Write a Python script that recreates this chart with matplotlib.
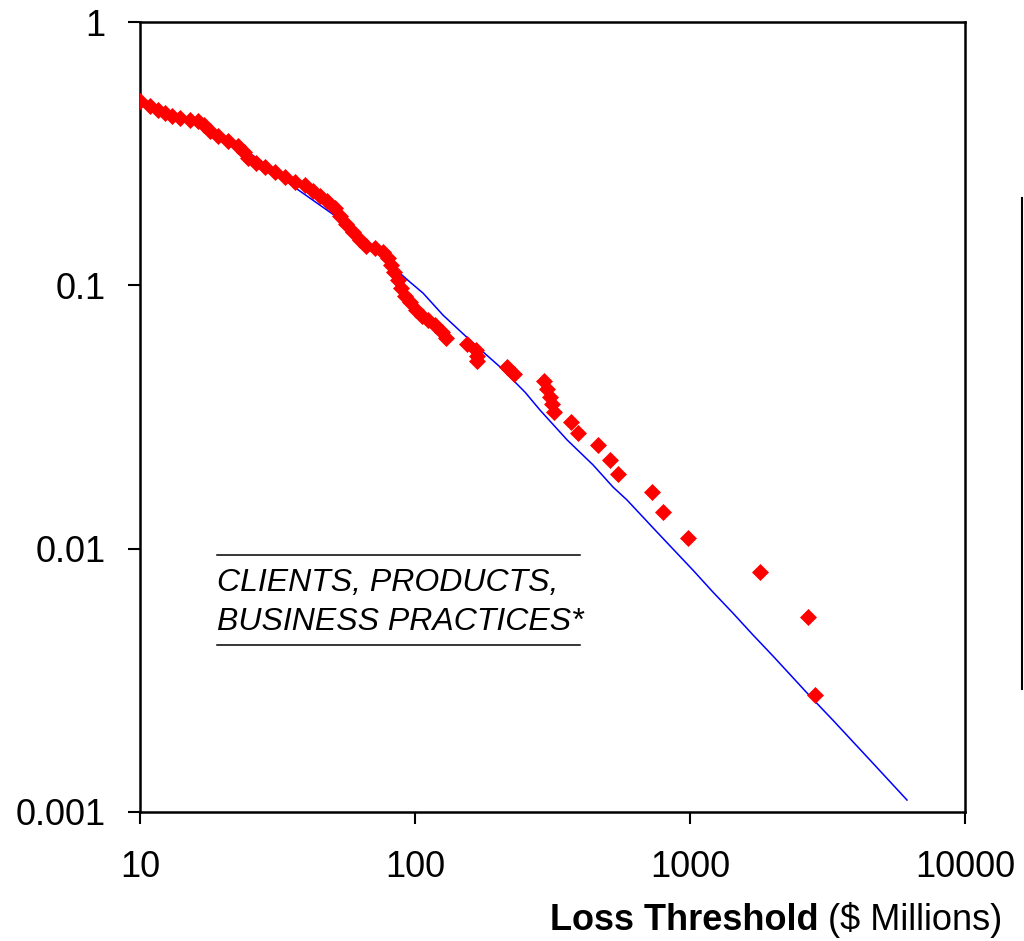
import numpy as np
import matplotlib
matplotlib.use('Agg')
import matplotlib.pyplot as plt
from matplotlib.lines import Line2D
from matplotlib.ticker import NullLocator

plt.rcParams['font.family'] = ['Liberation Sans', 'DejaVu Sans']

# observed exceedance probabilities (red diamonds), loss in $ millions
loss_obs = [10.0, 10.9, 11.6, 12.3, 13.1, 14.0, 15.2, 16.3, 17.1, 18.0,
            19.2, 20.9, 22.7, 23.9, 24.7, 26.4, 28.5, 31.0, 33.7, 36.6,
            39.8, 42.6, 45.1, 47.9, 51.2, 53.4, 56.1, 59.5, 63.1, 66.3,
            71.5, 76.5, 79.8, 81.8, 83.9, 86.8, 88.9, 92.0, 95.9, 100.8,
            106.0, 111.5, 118.2, 125.4, 129.7, 155, 167, 168, 168, 216,
            229, 295, 302, 310, 315, 320, 369, 392, 463, 512,
            547, 727, 798, 983, 1800, 2690, 2850]
prob_obs = [0.500, 0.480, 0.463, 0.451, 0.440, 0.432, 0.424, 0.421, 0.406, 0.385,
            0.369, 0.353, 0.338, 0.321, 0.304, 0.291, 0.281, 0.269, 0.258, 0.247,
            0.240, 0.228, 0.218, 0.209, 0.197, 0.183, 0.171, 0.159, 0.149, 0.141,
            0.1385, 0.134, 0.127, 0.1194, 0.1123, 0.1047, 0.0976, 0.0911, 0.0864, 0.0806,
            0.0764, 0.0738, 0.0707, 0.0665, 0.0631, 0.0598, 0.0568, 0.0539, 0.0516, 0.0490,
            0.0460, 0.0433, 0.0404, 0.0377, 0.0354, 0.0330, 0.0303, 0.0275, 0.0247, 0.0217,
            0.0192, 0.0164, 0.0138, 0.01097, 0.00815, 0.0055, 0.00278]

# fitted tail (blue line)
loss_fit = [10.0, 12.85, 16.53, 21.25, 27.32, 36.0, 44.0, 52.0, 61.5, 72.7,
            95.9, 106.9, 126.4, 162.5, 203.8, 251.2, 284.8, 357.1, 444.0, 524.8,
            590.2, 758.6, 1025, 1212, 1433, 1695, 2004, 2665, 3311, 4513, 6153]
prob_fit = [0.501, 0.451, 0.406, 0.353, 0.299, 0.238, 0.2054, 0.1817, 0.1566, 0.1327,
            0.1029, 0.0935, 0.0771, 0.0604, 0.0490, 0.0393, 0.0336, 0.0259, 0.0208, 0.01714,
            0.0153, 0.01156, 0.00829, 0.00684, 0.00569, 0.00470, 0.00391, 0.00283, 0.00223, 0.001575, 0.00111]

x_ticks = [10, 100, 1000, 10000]
x_tick_labels = ['10', '100', '1000', '10000']
y_ticks = [0.001, 0.01, 0.1, 1]
y_tick_labels = ['0.001', '0.01', '0.1', '1']

fig = plt.figure(figsize=(10.24, 9.41), dpi=100)
ax = fig.add_axes([0.1367, 0.1371, 0.8057, 0.8395])

ax.plot(loss_fit, prob_fit, color='#0000FF', lw=1.1, zorder=2)
ax.plot(loss_obs, prob_obs, ls='none', marker='D', ms=8.5, color='#FF0000',
        mec='#FF0000', mew=0.5, zorder=3)

ax.set_xscale('log')
ax.set_yscale('log')
ax.set_xlim(10, 10000)
ax.set_ylim(0.001, 1)
ax.set_xticks(x_ticks)
ax.set_xticklabels(x_tick_labels)
ax.set_yticks(y_ticks)
ax.set_yticklabels(y_tick_labels)
ax.xaxis.set_minor_locator(NullLocator())
ax.yaxis.set_minor_locator(NullLocator())
ax.tick_params(axis='both', direction='out', length=8.6, width=1.5,
               labelsize=26, colors='black')
ax.tick_params(axis='x', pad=19)
ax.tick_params(axis='y', pad=16)
for s in ax.spines.values():
    s.set_linewidth(1.8)
    s.set_color('black')

# label box inside the plot
ax.plot([0.0933, 0.5333], [0.3253, 0.3253], transform=ax.transAxes,
        color='black', lw=1.1)
ax.plot([0.0933, 0.5333], [0.2114, 0.2114], transform=ax.transAxes,
        color='black', lw=1.1)
ax.text(0.0933, 0.2899, 'CLIENTS, PRODUCTS,', transform=ax.transAxes,
        fontsize=23, style='italic', ha='left', va='center')
ax.text(0.0933, 0.2405, 'BUSINESS PRACTICES*', transform=ax.transAxes,
        fontsize=23, style='italic', ha='left', va='center')

# x axis title: bold part + normal part
t2 = fig.text(1002 / 1024, 1 - 920 / 941, '($ Millions)', fontsize=26,
              ha='right', va='center')
fig.canvas.draw()
bb = t2.get_window_extent(fig.canvas.get_renderer())
x_left = bb.x0 / fig.bbox.width
fig.text(x_left - 0.009, 1 - 920 / 941, 'Loss Threshold', fontsize=26,
         fontweight='bold', ha='right', va='center')

# edge of neighbouring panel
fig.add_artist(Line2D([0.998, 0.998], [0.268, 0.790], color='black', lw=1.5))

fig.savefig('out.png', dpi=100, facecolor='white')
